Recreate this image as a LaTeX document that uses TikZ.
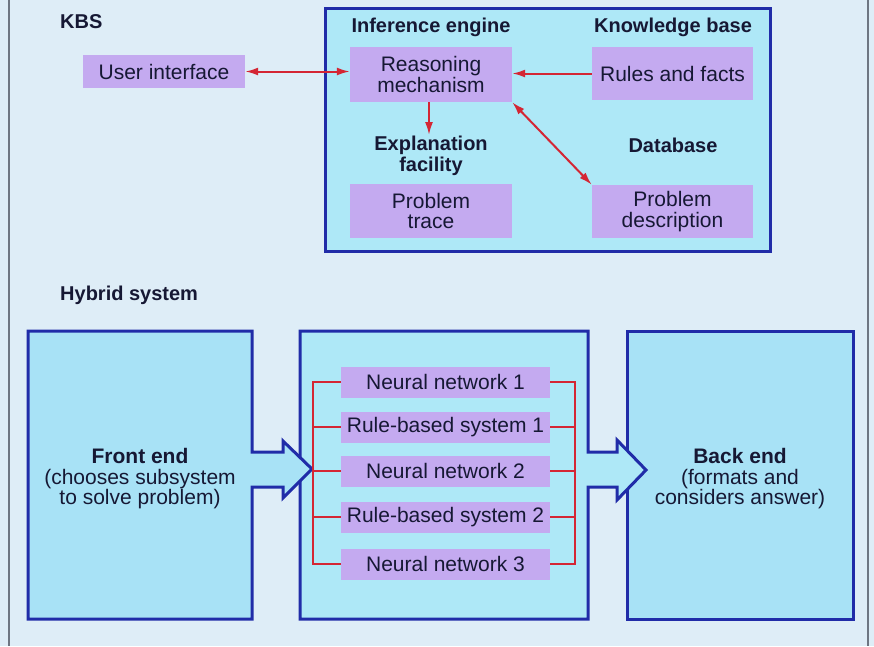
\documentclass[tikz,border=0pt]{standalone}
\usepackage{fontspec}
\setmainfont{Liberation Sans}
\usetikzlibrary{arrows.meta}
\definecolor{bgcol}{RGB}{222,237,247}
\definecolor{cyanfill}{RGB}{174,232,247}
\definecolor{endfill}{RGB}{168,226,246}
\definecolor{lav}{RGB}{196,170,240}
\definecolor{dblue}{RGB}{32,44,168}
\definecolor{redc}{RGB}{212,38,52}
\definecolor{txt}{RGB}{22,24,52}
\definecolor{edge}{RGB}{110,118,130}
\begin{document}
\begin{tikzpicture}[x=1pt,y=-1pt,
  every node/.style={text=txt, inner sep=0pt, align=center},
  plain/.style={font=\fontsize{21}{20.5}\selectfont},
  bold/.style={font=\fontsize{20}{21.5}\selectfont\bfseries},
  lavbox/.style={plain, fill=lav, minimum width=#1},
  lavbox/.default=162pt,
  redarrow/.style={draw=redc, line width=2pt, -{Latex[length=13pt,width=8pt]}},
  redboth/.style={draw=redc, line width=2pt, {Latex[length=13pt,width=8pt]}-{Latex[length=13pt,width=8pt]}},
  bus/.style={draw=redc, line width=2.4pt},
  frame/.style={draw=dblue, line width=3pt, line join=miter}
]
\useasboundingbox (0,0) rectangle (874,646);
\fill[bgcol] (0,0) rectangle (874,646);
\draw[edge, line width=1.2pt] (9,0) -- (9,646);
\draw[edge, line width=1.2pt] (868,0) -- (868,646);

% ---------- KBS ----------
\node[bold, anchor=west] (kbs) at (60,22) {KBS};
\filldraw[fill=cyanfill, frame] (325,8) rectangle (770,251);

\node[lavbox, minimum height=33pt] (ui) at (164,71.5) {User interface};
\node[bold] (ietitle) at (431,27) {Inference engine};
\node[bold] (kbtitle) at (673,27) {Knowledge base};
\node[lavbox, minimum height=55pt] (reason) at (431,74.5) {Reasoning\\mechanism};
\node[lavbox=161pt, minimum height=53pt] (rules) at (672.5,73.5) {Rules and facts};
\node[bold] (expl) at (431,156) {Explanation\\facility};
\node[bold] (db) at (673,145) {Database};
\node[lavbox, minimum height=54pt] (trace) at (431,211) {Problem\\trace};
\node[lavbox=161pt, minimum height=53pt] (pdesc) at (672.5,211.5) {Problem\\description};

\draw[redboth] (ui.east) -- (ui.east -| reason.west);
\draw[redarrow] (rules.west) -- (rules.west -| reason.east);
\coordinate (downtip) at (429,135);
\draw[redarrow] (reason.south -| downtip) -- (downtip);
\draw[redboth] (reason.south east) -- (pdesc.north west);

% ---------- Hybrid system ----------
\node[bold, anchor=west] (hyb) at (60,295) {Hybrid system};

% back end box
\filldraw[fill=endfill, frame] (627,331) rectangle (853,619);
% middle box with arrow to back end
\filldraw[fill=cyanfill, frame] (300,331) -- (588,331) -- (588,452) -- (617,452) -- (617,440)
  -- (646,470) -- (617,500) -- (617,487) -- (588,487) -- (588,619) -- (300,619) -- cycle;
% front end box with arrow to middle
\filldraw[fill=endfill, frame] (28,331) -- (252,331) -- (252,452) -- (283,452) -- (283,441)
  -- (312,469) -- (283,498) -- (283,487) -- (252,487) -- (252,619) -- (28,619) -- cycle;

\node[plain] (front) at (140,479) {\textbf{Front end}\\(chooses subsystem\\to solve problem)};
\node[plain] (back) at (740,479) {\textbf{Back end}\\(formats and\\considers answer)};

\node[lavbox=209pt, minimum height=31pt] (nn1) at (445.5,382) {Neural network 1};
\node[lavbox=209pt, minimum height=31pt] (rb1) at (445.5,427) {Rule-based system 1};
\node[lavbox=209pt, minimum height=31pt] (nn2) at (445.5,471) {Neural network 2};
\node[lavbox=209pt, minimum height=31pt] (rb2) at (445.5,517) {Rule-based system 2};
\node[lavbox=209pt, minimum height=31pt] (nn3) at (445.5,564) {Neural network 3};

\coordinate (lbus) at (313,0);
\coordinate (rbus) at (575,0);
\draw[bus] (nn1.west) -- (nn1.west -| lbus) -- (nn3.west -| lbus) -- (nn3.west);
\draw[bus] (rb1.west) -- (rb1.west -| lbus);
\draw[bus] (nn2.west) -- (nn2.west -| lbus);
\draw[bus] (rb2.west) -- (rb2.west -| lbus);
\draw[bus] (nn1.east) -- (nn1.east -| rbus) -- (nn3.east -| rbus) -- (nn3.east);
\draw[bus] (rb1.east) -- (rb1.east -| rbus);
\draw[bus] (nn2.east) -- (nn2.east -| rbus);
\draw[bus] (rb2.east) -- (rb2.east -| rbus);
\end{tikzpicture}
\end{document}
